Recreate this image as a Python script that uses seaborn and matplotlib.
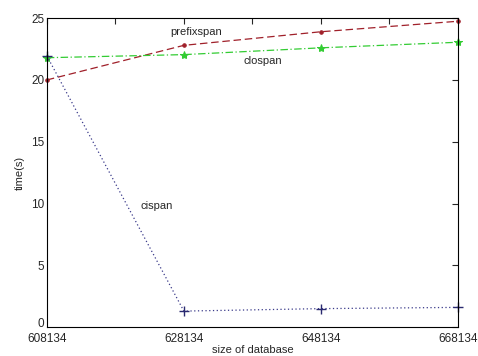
import matplotlib
matplotlib.use("Agg")
import matplotlib.pyplot as plt
import matplotlib.transforms as mtransforms
import pandas as pd
import seaborn as sns

# values
sizes = [608134, 628134, 648134, 668134]
prefixspan = [20.0, 22.8, 23.9, 24.75]
clospan = [21.8, 22.05, 22.6, 23.05]
cispan = [21.95, 1.3, 1.5, 1.6]
xtick_values = [608134, 618134, 628134, 638134, 648134, 658134, 668134]
xtick_labels = ["608134", "", "628134", "", "648134", "", "668134"]

df = pd.DataFrame({"size": sizes, "prefixspan": prefixspan,
                   "clospan": clospan, "cispan": cispan})

sns.set_style("white")
plt.rcParams['font.family'] = ['Liberation Sans', 'DejaVu Sans']
plt.rcParams['font.size'] = 8

fig = plt.figure(figsize=(4.78, 3.56), dpi=100)
ax = fig.add_axes([0.098, 0.081, 0.86, 0.868])

sns.lineplot(data=df, x="size", y="prefixspan", ax=ax, color="#a0202a",
             linestyle=(0, (6, 3)), linewidth=0.9, marker=".", markersize=5,
             markeredgecolor="#a0202a", clip_on=False)
sns.lineplot(data=df, x="size", y="clospan", ax=ax, color="#33cc33",
             linestyle=(0, (6, 2, 1, 2)), linewidth=0.9, marker="*", markersize=6,
             markeredgecolor="#33cc33", clip_on=False)
sns.lineplot(data=df, x="size", y="cispan", ax=ax, color="#3a3a8a",
             linestyle=(0, (1, 2)), linewidth=0.9, marker="+", markersize=7,
             markeredgecolor="#2a2a70", markeredgewidth=1.0, clip_on=False)

ax.text(630000, 23.9, "prefixspan", ha="center", va="center", fontsize=8)
ax.text(639600, 21.55, "clospan", ha="center", va="center", fontsize=8)
ax.text(624200, 9.8, "cispan", ha="center", va="center", fontsize=8)

ax.set_xlim(608134, 668134)
ax.set_ylim(0, 25)
ax.set_xticks(xtick_values)
ax.set_xticklabels(xtick_labels)
ax.set_yticks([0, 5, 10, 15, 20, 25])
ax.tick_params(direction="in", top=True, right=True, length=4, width=0.8,
               labelsize=8.5, pad=2)
ax.tick_params(axis="x", pad=4)
# lift the "0" label a little so it sits clear of 608134, like the original
zero_lbl = ax.get_yticklabels()[0]
zero_lbl.set_transform(zero_lbl.get_transform() +
                       mtransforms.ScaledTranslation(0, 3 / 72, fig.dpi_scale_trans))
for s in ax.spines.values():
    s.set_color("black")
    s.set_linewidth(0.8)
ax.set_xlabel("size of database", fontsize=8, labelpad=0)
ax.set_ylabel("time(s)", fontsize=8, labelpad=4)

fig.savefig("out.png", dpi=100)
